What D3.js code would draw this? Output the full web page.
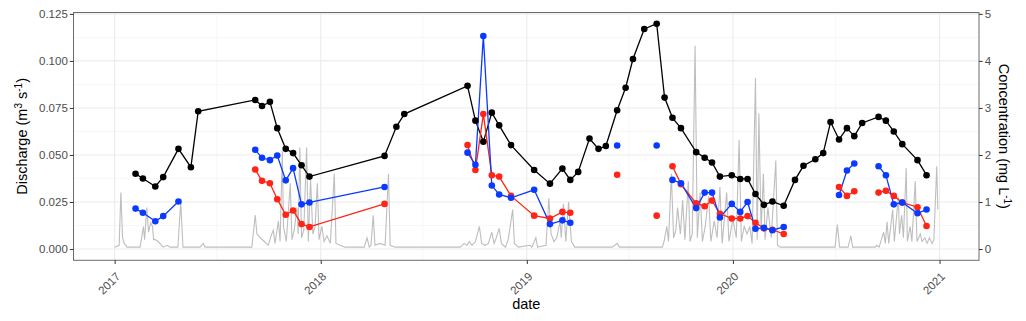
<!DOCTYPE html>
<html>
<head>
<meta charset="utf-8">
<script src="https://cdn.jsdelivr.net/npm/d3@7"></script>
<style>
  body { margin: 0; background: #fff; }
  text { font-family: "Liberation Sans", Arial, Helvetica, sans-serif; }
</style>
</head>
<body>
<div id="chart"></div>
<script>
// sampling dates (shared by the three concentration series)
const sampleDates = [
  "2017-02-07", "2017-02-20", "2017-03-14", "2017-03-28", "2017-04-24", "2017-05-16", "2017-05-29",
  "2017-09-07", "2017-09-19", "2017-10-03", "2017-10-16", "2017-10-31", "2017-11-13", "2017-11-28",
  "2017-12-12", "2018-04-24", "2018-05-15", "2018-05-29", "2018-09-18", "2018-10-02", "2018-10-16",
  "2018-10-31", "2018-11-13", "2018-12-04", "2019-01-14", "2019-02-11", "2019-03-05", "2019-03-19",
  "2019-04-02", "2019-04-22", "2019-05-08", "2019-05-21", "2019-06-10", "2019-06-25", "2019-07-08",
  "2019-07-28", "2019-08-19", "2019-09-02", "2019-09-16", "2019-10-01", "2019-10-28", "2019-11-12",
  "2019-11-25", "2019-12-09", "2019-12-30", "2020-01-14", "2020-01-27", "2020-02-10", "2020-02-25",
  "2020-03-11", "2020-03-31", "2020-04-20", "2020-05-05", "2020-05-26", "2020-06-09", "2020-06-22",
  "2020-07-07", "2020-07-21", "2020-08-03", "2020-08-17", "2020-09-15", "2020-09-28", "2020-10-12",
  "2020-10-27", "2020-11-23", "2020-12-09",
];

// concentrations (mg/L), null = not sampled
const concBlack = [
  1.60, 1.50, 1.33, 1.53, 2.13, 1.74, 2.93,
  3.17, 3.04, 3.13, 2.57, 2.13, 2.04, 1.78,
  1.54, 1.98, 2.60, 2.87, 3.47, 2.73, 2.28,
  2.90, 2.63, 2.21, 1.68, 1.39, 1.71, 1.47,
  1.64, 2.35, 2.13, 2.19, 2.95, 3.43, 4.04,
  4.68, 4.79, 3.22, 2.79, 2.57, 2.06, 1.94,
  1.84, 1.54, 1.57, 1.49, 1.49, 1.17, 0.94,
  1.01, 0.92, 1.47, 1.77, 1.91, 2.04, 2.70,
  2.33, 2.57, 2.40, 2.68, 2.81, 2.73, 2.50,
  2.23, 1.89, 1.57,
];
const concBlue = [
  0.86, 0.77, 0.59, 0.70, 1.01, null, null,
  2.11, 1.94, 1.89, 1.99, 1.46, 1.72, 0.95,
  0.99, 1.32, null, null, 2.05, 1.79, 4.53,
  1.35, 1.16, 1.09, 1.26, 0.53, 0.61, 0.56,
  null, null, null, null, 2.20, null, null,
  null, 2.20, null, 1.47, 1.40, 0.87, 1.20,
  1.20, 0.67, 0.96, 0.79, 1.00, 0.43, 0.45,
  0.40, 0.47, null, null, null, null, null,
  1.15, 1.67, 1.82, null, 1.76, 1.57, 0.95,
  0.99, 0.76, 0.84,
];
const concRed = [
  null, null, null, null, null, null, null,
  1.69, 1.45, 1.40, 1.06, 0.73, 0.82, 0.53,
  0.47, 0.96, null, null, 2.21, 1.68, 2.87,
  1.57, 1.54, 1.13, 0.71, 0.65, 0.79, 0.77,
  null, null, null, null, 1.58, null, null,
  null, 0.71, null, 1.76, 1.38, 0.97, 0.91,
  1.03, 0.75, 0.65, 0.65, 0.70, 0.56, 0.44,
  0.41, 0.32, null, null, null, null, null,
  1.32, 1.13, 1.23, null, 1.20, 1.24, 1.13,
  0.99, 0.89, 0.49,
];

// discharge hydrograph (m3/s)
const flowDates = [
  "2017-01-01", "2017-01-09", "2017-01-12", "2017-01-15", "2017-01-18", "2017-01-23", "2017-02-15",
  "2017-02-21", "2017-02-23", "2017-02-27", "2017-03-02", "2017-03-06", "2017-03-09", "2017-03-11",
  "2017-03-14", "2017-03-19", "2017-03-22", "2017-03-28", "2017-04-04", "2017-04-09", "2017-04-23",
  "2017-04-28", "2017-05-02", "2017-06-01", "2017-06-07", "2017-06-10", "2017-09-01", "2017-09-07",
  "2017-09-10", "2017-09-16", "2017-09-23", "2017-09-30", "2017-10-05", "2017-10-09", "2017-10-12",
  "2017-10-18", "2017-10-21", "2017-10-25", "2017-10-27", "2017-11-01", "2017-11-08", "2017-11-11",
  "2017-11-15", "2017-11-20", "2017-11-22", "2017-11-25", "2017-11-28", "2017-12-02", "2017-12-07",
  "2017-12-10", "2017-12-14", "2017-12-18", "2017-12-22", "2017-12-26", "2017-12-29", "2018-01-03",
  "2018-01-07", "2018-01-12", "2018-01-18", "2018-01-25", "2018-01-28", "2018-02-04", "2018-02-13",
  "2018-03-19", "2018-03-24", "2018-03-28", "2018-03-31", "2018-04-04", "2018-04-07", "2018-04-16",
  "2018-04-25", "2018-05-01", "2018-05-04", "2018-05-13", "2018-09-05", "2018-09-12", "2018-09-17",
  "2018-09-21", "2018-09-26", "2018-10-02", "2018-10-09", "2018-10-13", "2018-10-19", "2018-10-25",
  "2018-10-31", "2018-11-04", "2018-11-08", "2018-11-13", "2018-11-17", "2018-11-24", "2018-11-29",
  "2018-12-04", "2018-12-07", "2018-12-10", "2018-12-17", "2019-01-07", "2019-01-10", "2019-01-17",
  "2019-01-20", "2019-02-04", "2019-02-09", "2019-02-13", "2019-02-18", "2019-02-23", "2019-03-01",
  "2019-03-03", "2019-03-07", "2019-03-11", "2019-03-16", "2019-03-21", "2019-03-27", "2019-06-01",
  "2019-06-06", "2019-06-10", "2019-06-14", "2019-08-29", "2019-09-01", "2019-09-06", "2019-09-09",
  "2019-09-14", "2019-09-18", "2019-09-22", "2019-09-25", "2019-09-30", "2019-10-04", "2019-10-08",
  "2019-10-14", "2019-10-17", "2019-10-21", "2019-10-26", "2019-10-30", "2019-11-04", "2019-11-08",
  "2019-11-13", "2019-11-19", "2019-11-23", "2019-11-29", "2019-12-04", "2019-12-09", "2019-12-13",
  "2019-12-21", "2019-12-25", "2020-01-01", "2020-01-07", "2020-01-12", "2020-01-16", "2020-01-21",
  "2020-01-26", "2020-01-31", "2020-02-04", "2020-02-10", "2020-02-13", "2020-02-16", "2020-02-20",
  "2020-02-24", "2020-02-27", "2020-03-03", "2020-03-09", "2020-03-17", "2020-03-20", "2020-03-25",
  "2020-06-30", "2020-07-04", "2020-07-08", "2020-07-23", "2020-07-28", "2020-07-31", "2020-09-09",
  "2020-09-12", "2020-09-16", "2020-09-24", "2020-09-27", "2020-09-30", "2020-10-03", "2020-10-10",
  "2020-10-13", "2020-10-20", "2020-10-22", "2020-10-26", "2020-10-29", "2020-11-03", "2020-11-05",
  "2020-11-10", "2020-11-13", "2020-11-19", "2020-11-22", "2020-11-28", "2020-12-01", "2020-12-06",
  "2020-12-10", "2020-12-14", "2020-12-19", "2020-12-22", "2020-12-27", "2020-12-29",
];
const flowValues = [
  0.001, 0.002, 0.030, 0.006, 0.003, 0.001, 0.001,
  0.012, 0.005, 0.022, 0.009, 0.014, 0.012, 0.005,
  0.005, 0.004, 0.003, 0.001, 0.002, 0.001, 0.001,
  0.025, 0.001, 0.001, 0.003, 0.001, 0.001, 0.018,
  0.008, 0.006, 0.004, 0.002, 0.007, 0.010, 0.003,
  0.015, 0.004, 0.052, 0.012, 0.004, 0.035, 0.005,
  0.010, 0.022, 0.008, 0.054, 0.006, 0.010, 0.054,
  0.004, 0.037, 0.008, 0.012, 0.035, 0.005, 0.012,
  0.004, 0.007, 0.003, 0.040, 0.003, 0.002, 0.001,
  0.001, 0.006, 0.001, 0.002, 0.018, 0.002, 0.003,
  0.002, 0.040, 0.002, 0.001, 0.001, 0.003, 0.002,
  0.004, 0.002, 0.004, 0.012, 0.003, 0.002, 0.003,
  0.009, 0.003, 0.006, 0.011, 0.003, 0.001, 0.005,
  0.015, 0.021, 0.003, 0.001, 0.002, 0.001, 0.006,
  0.001, 0.002, 0.027, 0.008, 0.004, 0.006, 0.015,
  0.006, 0.024, 0.004, 0.025, 0.004, 0.001, 0.001,
  0.002, 0.003, 0.001, 0.001, 0.004, 0.012, 0.004,
  0.040, 0.006, 0.010, 0.022, 0.008, 0.026, 0.005,
  0.036, 0.004, 0.008, 0.108, 0.006, 0.030, 0.004,
  0.012, 0.028, 0.004, 0.015, 0.006, 0.033, 0.003,
  0.030, 0.004, 0.016, 0.006, 0.058, 0.004, 0.012,
  0.008, 0.012, 0.003, 0.091, 0.005, 0.072, 0.010,
  0.040, 0.005, 0.022, 0.006, 0.047, 0.002, 0.001,
  0.001, 0.013, 0.001, 0.001, 0.007, 0.001, 0.001,
  0.002, 0.001, 0.009, 0.003, 0.0145, 0.003, 0.021,
  0.004, 0.028, 0.008, 0.018, 0.006, 0.043, 0.004,
  0.012, 0.004, 0.036, 0.004, 0.008, 0.004, 0.006,
  0.003, 0.006, 0.003, 0.005, 0.044, 0.021,
];

// axis ticks
const yearTicks = ["2017", "2018", "2019", "2020", "2021"];
const concTicks = [0, 1, 2, 3, 4, 5];

// layout
const width = 1026;
const height = 321;
const margin = { top: 12.5, right: 47, bottom: 60.7, left: 73.5 };
const factor = 40; // discharge * 40 = concentration scale (sec. axis)

const parseDate = d3.timeParse("%Y-%m-%d");
const samples = sampleDates.map(parseDate);
const flow = flowDates.map((d, i) => ({ date: parseDate(d), value: flowValues[i] * factor }));

const series = [
  { name: "black", color: "#000000", values: concBlack },
  { name: "red", color: "#ff2416", values: concRed },
  { name: "blue", color: "#0a3aff", values: concBlue },
];

const svg = d3
  .select("#chart")
  .append("svg")
  .attr("width", width)
  .attr("height", height);

// scales with ggplot-like 5% expansion
const xExt = d3.extent(flow.map((d) => d.date).concat(samples));
const xPad = (xExt[1] - xExt[0]) * 0.05;
const x = d3
  .scaleTime()
  .domain([new Date(+xExt[0] - xPad), new Date(+xExt[1] + xPad)])
  .range([margin.left, width - margin.right]);

const yMax = d3.max([d3.max(flow, (d) => d.value)].concat(series.map((s) => d3.max(s.values))));
const y = d3
  .scaleLinear()
  .domain([-0.05 * yMax, 1.05 * yMax])
  .range([height - margin.bottom, margin.top]);

const x0 = margin.left, x1 = width - margin.right;
const y0 = height - margin.bottom, y1 = margin.top;

// grid
const grid = svg.append("g");
const minorY = concTicks.slice(0, -1).map((d) => d + 0.5);
const majorX = yearTicks.map((d) => parseDate(d + "-01-01"));
const minorX = yearTicks.slice(0, -1).map((d) => parseDate(d + "-07-01"));

grid.selectAll(".minor-y").data(minorY).enter().append("line")
  .attr("x1", x0).attr("x2", x1)
  .attr("y1", (d) => y(d)).attr("y2", (d) => y(d))
  .attr("stroke", "#f3f3f3").attr("stroke-width", 0.7);
grid.selectAll(".minor-x").data(minorX).enter().append("line")
  .attr("x1", (d) => x(d)).attr("x2", (d) => x(d))
  .attr("y1", y0).attr("y2", y1)
  .attr("stroke", "#f3f3f3").attr("stroke-width", 0.7);
grid.selectAll(".major-y").data(concTicks).enter().append("line")
  .attr("x1", x0).attr("x2", x1)
  .attr("y1", (d) => y(d)).attr("y2", (d) => y(d))
  .attr("stroke", "#ebebeb").attr("stroke-width", 1.1);
grid.selectAll(".major-x").data(majorX).enter().append("line")
  .attr("x1", (d) => x(d)).attr("x2", (d) => x(d))
  .attr("y1", y0).attr("y2", y1)
  .attr("stroke", "#ebebeb").attr("stroke-width", 1.1);

// discharge
const flowLine = d3.line().x((d) => x(d.date)).y((d) => y(d.value));
svg.append("path")
  .datum(flow)
  .attr("d", flowLine)
  .attr("fill", "none")
  .attr("stroke", "#bebebe")
  .attr("stroke-width", 1.1);

// concentration lines, gaps where not sampled
const concLine = d3
  .line()
  .defined((d) => d.value != null)
  .x((d) => x(d.date))
  .y((d) => y(d.value));

series.forEach((s) => {
  const pts = samples.map((d, i) => ({ date: d, value: s.values[i] }));
  svg.append("path")
    .datum(pts)
    .attr("d", concLine)
    .attr("fill", "none")
    .attr("stroke", s.color)
    .attr("stroke-width", 1.3);
});

series.forEach((s) => {
  const pts = samples
    .map((d, i) => ({ date: d, value: s.values[i] }))
    .filter((d) => d.value != null);
  svg.append("g")
    .selectAll("circle")
    .data(pts)
    .enter()
    .append("circle")
    .attr("cx", (d) => x(d.date))
    .attr("cy", (d) => y(d.value))
    .attr("r", 3.3)
    .attr("fill", s.color);
});

// panel border
svg.append("rect")
  .attr("x", x0).attr("y", y1)
  .attr("width", x1 - x0).attr("height", y0 - y1)
  .attr("fill", "none")
  .attr("stroke", "#6b6b6b")
  .attr("stroke-width", 1);

// axes
function styleAxis(g) {
  g.select(".domain").remove();
  g.selectAll(".tick line").attr("stroke", "#333333");
  g.selectAll(".tick text")
    .attr("fill", "#4d4d4d")
    .style("font-size", "11.5px")
    .style("font-family", '"Liberation Sans", Arial, sans-serif');
}

svg.append("g")
  .attr("transform", `translate(${x0},0)`)
  .call(d3.axisLeft(y).tickValues(concTicks).tickSize(3.7).tickPadding(2)
    .tickFormat((d) => d3.format(".3f")(d / factor)))
  .call(styleAxis);

svg.append("g")
  .attr("transform", `translate(${x1},0)`)
  .call(d3.axisRight(y).tickValues(concTicks).tickSize(3.7).tickPadding(2)
    .tickFormat(d3.format("d")))
  .call(styleAxis);

const xAxis = svg.append("g")
  .attr("transform", `translate(0,${y0})`)
  .call(d3.axisBottom(x).tickValues(majorX).tickSize(3.7)
    .tickFormat(d3.timeFormat("%Y")))
  .call(styleAxis);

xAxis.selectAll(".tick text")
  .attr("text-anchor", "end")
  .attr("dy", "0.35em")
  .attr("y", 0)
  .attr("transform", "translate(3,14) rotate(-45)");

// axis titles
svg.append("text")
  .attr("x", (x0 + x1) / 2)
  .attr("y", 309)
  .attr("text-anchor", "middle")
  .style("font-size", "14.5px")
  .text("date");

const leftTitle = svg.append("text")
  .attr("transform", `translate(27,${(y0 + y1) / 2}) rotate(-90)`)
  .attr("text-anchor", "middle")
  .style("font-size", "14.5px");
leftTitle.append("tspan").text("Discharge (m");
leftTitle.append("tspan").attr("baseline-shift", "super").style("font-size", "10px").text("3");
leftTitle.append("tspan").text(" s");
leftTitle.append("tspan").attr("baseline-shift", "super").style("font-size", "10px").text("-1");
leftTitle.append("tspan").text(")");

const rightTitle = svg.append("text")
  .attr("transform", `translate(999,${(y0 + y1) / 2}) rotate(90)`)
  .attr("text-anchor", "middle")
  .style("font-size", "14.5px");
rightTitle.append("tspan").text("Concentration (mg L");
rightTitle.append("tspan").attr("baseline-shift", "super").style("font-size", "10px").text("-1");
rightTitle.append("tspan").text(")");
</script>
</body>
</html>
